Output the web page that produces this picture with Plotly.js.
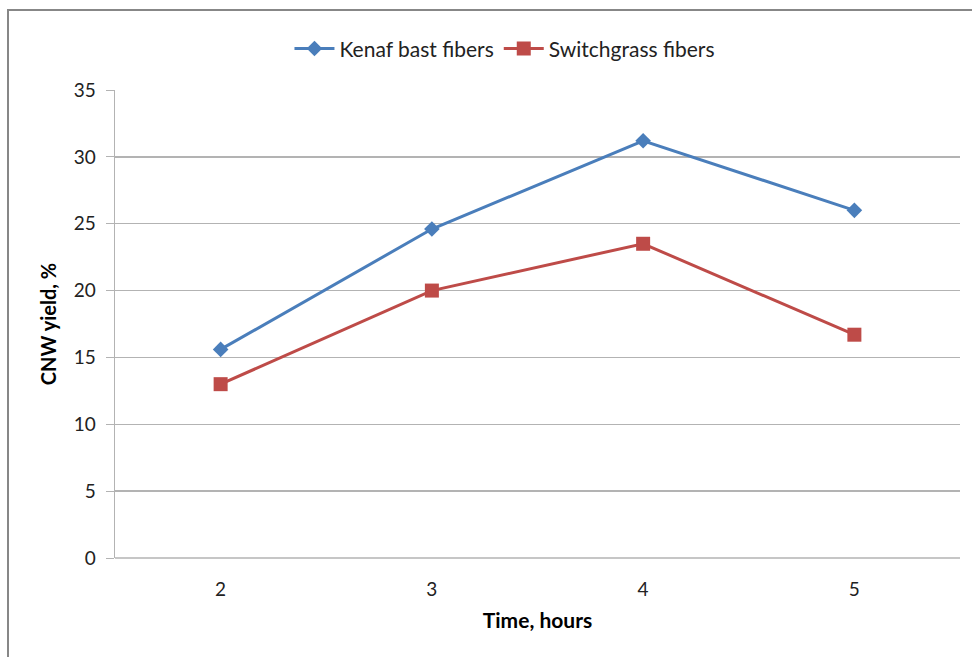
<!DOCTYPE html>
<html>
<head>
<meta charset="utf-8">
<script src="https://cdn.plot.ly/plotly-3.0.1.min.js"></script>
<style>
html,body{margin:0;padding:0;background:#fff;}
#wrap{position:relative;width:972px;height:657px;overflow:hidden;}
#chart{width:972px;height:657px;}
#frameLeft{position:absolute;left:7px;top:9px;width:2px;height:660px;background:#878787;z-index:10;pointer-events:none;}
#frameTop{position:absolute;left:7px;top:9px;width:970px;height:2px;background:#878787;z-index:10;pointer-events:none;}
</style>
</head>
<body>
<div id="wrap">
<div id="chart"></div>
<div id="frameLeft"></div>
<div id="frameTop"></div>
</div>
<script>
const times = ["2", "3", "4", "5"];
const kenafYield = [15.6, 24.6, 31.2, 26.0];
const switchgrassYield = [13.0, 20.0, 23.5, 16.7];
const yTicks = [0, 5, 10, 15, 20, 25, 30, 35];

const fontFam = "Lato, 'Open Sans', sans-serif";

const traces = [
  {
    x: times, y: kenafYield, name: "Kenaf bast fibers",
    type: "scatter", mode: "lines+markers",
    line: {color: "#4A7EBB", width: 3},
    marker: {symbol: "diamond", size: 12, color: "#4A7EBB"}
  },
  {
    x: times, y: switchgrassYield, name: "Switchgrass fibers",
    type: "scatter", mode: "lines+markers",
    line: {color: "#BE4B48", width: 3},
    marker: {symbol: "square", size: 14, color: "#BE4B48"}
  }
];

const layout = {
  width: 972, height: 657,
  margin: {l: 115, r: 12, t: 90, b: 99},
  paper_bgcolor: "#fff", plot_bgcolor: "#fff",
  font: {family: fontFam, size: 18, color: "#222"},
  showlegend: true,
  legend: {
    orientation: "h", x: 0.4615, xanchor: "center", y: 1.088, yanchor: "middle",
    font: {family: fontFam, size: 21, color: "#222"},
    itemwidth: 40
  },
  xaxis: {
    type: "category", range: [-0.5, 3.5],
    showgrid: false, showline: false, zeroline: false,
    ticks: "", ticklabelstandoff: 18,
    tickfont: {family: fontFam, size: 19, color: "#222"},
    title: {text: "<b>Time, hours</b>", font: {family: fontFam, size: 21, color: "#000"}, standoff: 14}
  },
  yaxis: {
    range: [0, 35], tickvals: yTicks, ticktext: yTicks.map(String),
    showgrid: true, gridcolor: "#B3B3B3", gridwidth: 1.3,
    showline: true, linecolor: "#B3B3B3", linewidth: 1.3,
    zeroline: false,
    ticks: "outside", ticklen: 8, tickcolor: "#B3B3B3",
    ticklabelstandoff: 6,
    tickfont: {family: fontFam, size: 19, color: "#222"},
    title: {text: "<b>CNW yield, %</b>", font: {family: fontFam, size: 20, color: "#000"}, standoff: 12}
  },
  shapes: [
    {type: "line", xref: "paper", yref: "paper", x0: 0, x1: 1, y0: 0, y1: 0,
     line: {color: "#B3B3B3", width: 1.5}, layer: "below"}
  ]
};

Plotly.newPlot("chart", traces, layout, {displayModeBar: false, staticPlot: true});
</script>
</body>
</html>
